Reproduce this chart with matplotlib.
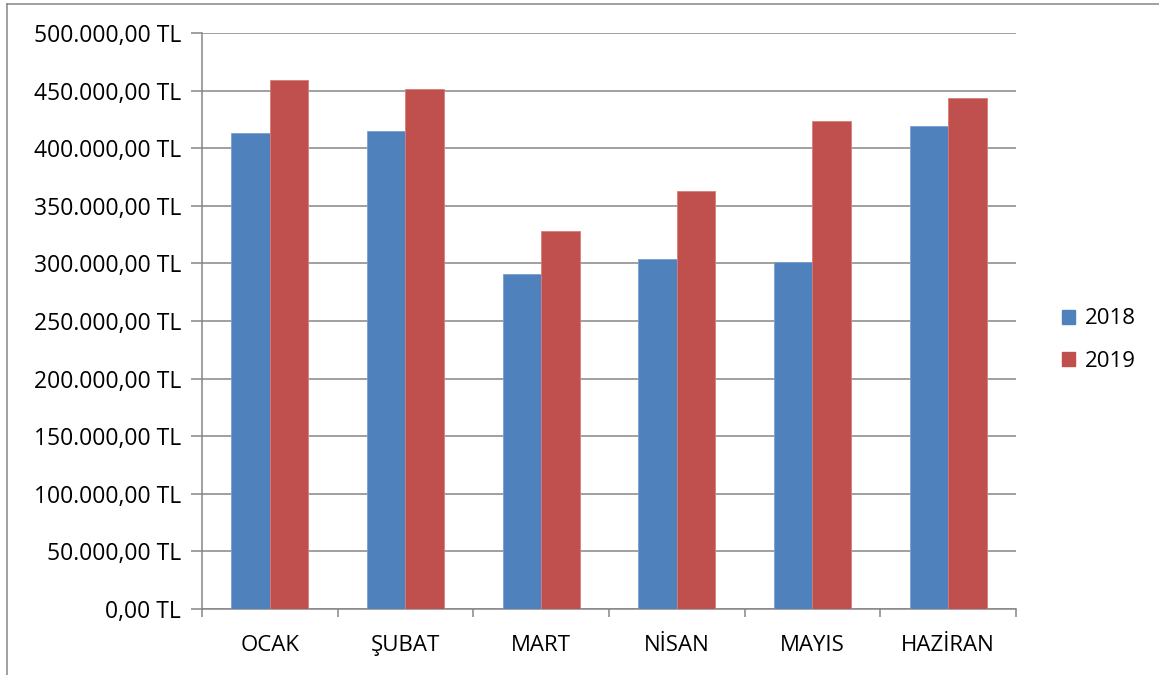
import matplotlib.pyplot as plt
import numpy as np
from matplotlib.lines import Line2D
from matplotlib.patches import Patch
from matplotlib.ticker import FuncFormatter, MultipleLocator


MONTHS = ["OCAK", "ŞUBAT", "MART", "NİSAN", "MAYIS", "HAZİRAN"]
SALES_2018 = [413000, 415000, 291000, 304000, 301000, 419000]
SALES_2019 = [459000, 451000, 328000, 363000, 424000, 444000]
SERIES_NAMES = ["2018", "2019"]

BLUE = "#4F81BD"
RED = "#C0504D"
GRID_GRAY = "#868686"
FONT = ["Open Sans", "DejaVu Sans"]


def tl_format(value, _pos=None):
	whole = f"{value:,.2f}"
	whole = whole.replace(",", "X").replace(".", ",").replace("X", ".")
	return f"{whole} TL"


def main() -> None:
	plt.rcParams["font.family"] = FONT
	fig = plt.figure(figsize=(11.59, 6.75), dpi=100)
	ax = fig.add_axes([202 / 1159, 1 - 609 / 675, (1016 - 202) / 1159, (609 - 33) / 675])

	x = np.arange(len(MONTHS))
	width = 0.285
	ax.bar(x - width / 2, SALES_2018, width, color=BLUE, edgecolor="#7A9FD0",
		linewidth=0.6, zorder=3)
	ax.bar(x + width / 2, SALES_2019, width, color=RED, edgecolor="#D67C79",
		linewidth=0.6, zorder=3)

	ax.set_xlim(-0.5, len(MONTHS) - 0.5)
	ax.set_ylim(0, 500000)
	ax.yaxis.set_major_locator(MultipleLocator(50000))
	ax.yaxis.set_major_formatter(FuncFormatter(tl_format))
	ax.grid(axis="y", color=GRID_GRAY, linewidth=1.1, zorder=0)

	ax.set_xticks(x)
	ax.set_xticklabels(MONTHS)
	ax.set_xticks(np.arange(len(MONTHS) + 1) - 0.5, minor=True)
	ax.tick_params(axis="x", which="major", length=0, pad=19, labelsize=16)
	ax.tick_params(axis="x", which="minor", length=6, width=1.1, color=GRID_GRAY)
	ax.tick_params(axis="y", length=8, width=1.1, color=GRID_GRAY, pad=7, labelsize=16.5)

	for side in ["top", "right"]:
		ax.spines[side].set_visible(False)
	for side in ["left", "bottom"]:
		ax.spines[side].set_color(GRID_GRAY)
		ax.spines[side].set_linewidth(1.1)

	handles = [Patch(color=BLUE), Patch(color=RED)]
	fig.legend(handles, SERIES_NAMES, loc="center left",
		bbox_to_anchor=(1042 / 1159, 1 - 340 / 675), frameon=False,
		fontsize=16, handlelength=0.6, handleheight=0.6, handletextpad=0.45,
		labelspacing=0.95)

	# outer chart frame, cut off at right and bottom in the reference
	fig.add_artist(Line2D([7 / 1159, 7 / 1159], [0, 1 - 4 / 675],
		transform=fig.transFigure, color=GRID_GRAY, linewidth=1.1))
	fig.add_artist(Line2D([7 / 1159, 1], [1 - 4 / 675, 1 - 4 / 675],
		transform=fig.transFigure, color=GRID_GRAY, linewidth=1.1))

	fig.savefig("out.png", dpi=100)


if __name__ == "__main__":
	main()
